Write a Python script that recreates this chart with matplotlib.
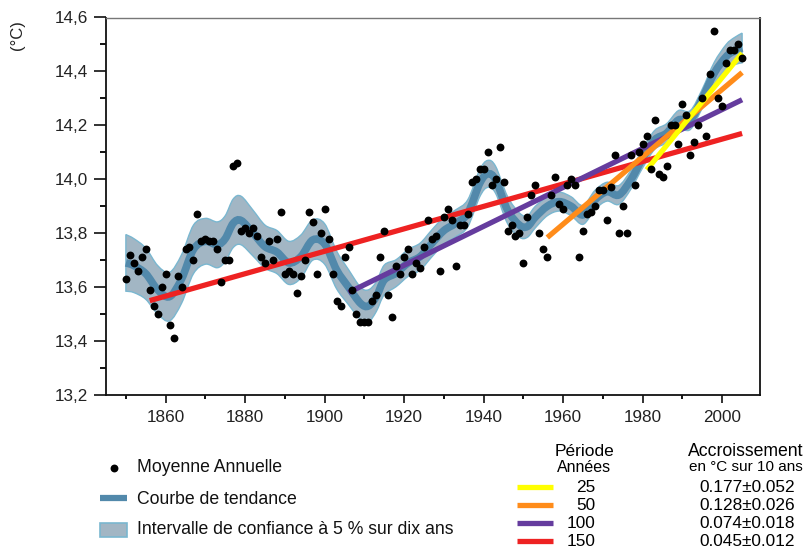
import numpy as np
import matplotlib
matplotlib.use("Agg")
import matplotlib.pyplot as plt
from matplotlib.ticker import MultipleLocator, FuncFormatter
from matplotlib.patches import Rectangle, PathPatch
from matplotlib.path import Path

plt.rcParams['font.family'] = ['Liberation Sans', 'DejaVu Sans']

# annual means (°C), 1850-2005
years = np.arange(1850, 2006)
temps = [
    13.63, 13.72, 13.69, 13.66, 13.71, 13.74, 13.59, 13.53, 13.50, 13.60,
    13.65, 13.46, 13.41, 13.64, 13.60, 13.74, 13.75, 13.70, 13.87, 13.77,
    13.78, 13.77, 13.77, 13.74, 13.62, 13.70, 13.70, 14.05, 14.06, 13.81,
    13.82, 13.80, 13.82, 13.79, 13.71, 13.69, 13.77, 13.70, 13.78, 13.88,
    13.65, 13.66, 13.65, 13.58, 13.64, 13.70, 13.88, 13.84, 13.65, 13.80,
    13.89, 13.78, 13.65, 13.55, 13.53, 13.71, 13.75, 13.59, 13.50, 13.47,
    13.47, 13.47, 13.55, 13.57, 13.71, 13.81, 13.57, 13.49, 13.68, 13.65,
    13.71, 13.74, 13.65, 13.69, 13.67, 13.75, 13.85, 13.78, 13.79, 13.66,
    13.86, 13.89, 13.85, 13.68, 13.83, 13.83, 13.87, 13.99, 14.00, 14.04,
    14.04, 14.10, 13.98, 14.00, 14.12, 13.99, 13.81, 13.83, 13.79, 13.80,
    13.69, 13.86, 13.94, 13.98, 13.80, 13.74, 13.71, 13.94, 14.01, 13.91,
    13.89, 13.98, 14.00, 13.98, 13.71, 13.81, 13.87, 13.88, 13.90, 13.96,
    13.96, 13.85, 13.97, 14.09, 13.80, 13.90, 13.80, 14.09, 13.98, 14.10,
    14.13, 14.16, 14.04, 14.22, 14.02, 14.01, 14.05, 14.20, 14.20, 14.13,
    14.28, 14.24, 14.09, 14.14, 14.20, 14.30, 14.16, 14.39, 14.55, 14.30,
    14.27, 14.43, 14.48, 14.48, 14.50, 14.45,
]

# smoothed curve and its 5% band
trend_years = [1850, 1852, 1855, 1858, 1861, 1864, 1867, 1870, 1873, 1875,
               1877, 1879, 1882, 1885, 1888, 1891, 1894, 1897, 1900, 1903,
               1906, 1909, 1911, 1913, 1915, 1918, 1921, 1924, 1927, 1930,
               1933, 1936, 1939, 1941, 1943, 1946, 1949, 1951, 1953, 1956,
               1959, 1962, 1965, 1968, 1971, 1974, 1977, 1980, 1983, 1986,
               1989, 1992, 1995, 1998, 2001, 2003, 2005]
trend = [13.69, 13.68, 13.65, 13.59, 13.565, 13.63, 13.74, 13.77, 13.757, 13.78,
         13.837, 13.847, 13.80, 13.75, 13.73, 13.69, 13.713, 13.775, 13.76, 13.664,
         13.60, 13.54, 13.53, 13.565, 13.627, 13.652, 13.69, 13.713, 13.763, 13.81,
         13.837, 13.874, 13.985, 14.02, 13.998, 13.886, 13.83, 13.825, 13.86, 13.90,
         13.917, 13.90, 13.868, 13.924, 13.954, 13.942, 13.998, 14.078, 14.146, 14.171,
         14.22, 14.22, 14.30, 14.394, 14.455, 14.475, 14.487]
band = [0.105, 0.10, 0.095, 0.09, 0.09, 0.09, 0.09, 0.085, 0.085, 0.085,
        0.09, 0.09, 0.085, 0.08, 0.08, 0.08, 0.08, 0.075, 0.075, 0.07,
        0.065, 0.06, 0.06, 0.055, 0.055, 0.05, 0.05, 0.05, 0.05, 0.05,
        0.05, 0.05, 0.05, 0.05, 0.05, 0.05, 0.045, 0.04, 0.04, 0.035,
        0.035, 0.035, 0.035, 0.035, 0.035, 0.035, 0.035, 0.035, 0.035, 0.035,
        0.035, 0.035, 0.035, 0.04, 0.045, 0.05, 0.055]

# linear fits: period (years), start/end value, rate per decade
periods = [25, 50, 100, 150]
fit_start = [1981, 1956, 1906, 1856]
fit_end = [2005, 2005, 2005, 2005]
fit_y0 = [14.035, 13.784, 13.58, 13.55]
fit_y1 = [14.468, 14.396, 14.295, 14.17]
fit_colors = ['#ffff00', '#ff8c1a', '#653c9e', '#ee2222']
rates = ['0.177±0.052', '0.128±0.026', '0.074±0.018', '0.045±0.012']


#smooth bezier path through the given points (catmull-rom style handles)
def smooth_path(xs, ys, first=True):
    pts = np.column_stack([xs, ys])
    n = len(pts)
    verts = [pts[0]] if first else []
    codes = [Path.MOVETO] if first else []
    for i in range(n - 1):
        p0 = pts[max(i - 1, 0)]
        p1 = pts[i]
        p2 = pts[i + 1]
        p3 = pts[min(i + 2, n - 1)]
        verts += [p1 + (p2 - p0) / 6.0, p2 - (p3 - p1) / 6.0, p2]
        codes += [Path.CURVE4] * 3
    return verts, codes


W, H = 806, 551
fig = plt.figure(figsize=(W / 100, H / 100), dpi=100)
ax = fig.add_axes([106 / W, 1 - 395 / H, (760 - 106) / W, (395 - 17.5) / H])

lo = np.array(trend) - np.array(band)
hi = np.array(trend) + np.array(band)
v1, c1 = smooth_path(trend_years, hi)
v2, c2 = smooth_path(trend_years[::-1], lo[::-1], first=False)
verts = v1 + [np.array([trend_years[-1], lo[-1]])] + v2 + [v1[0]]
codes = c1 + [Path.LINETO] + c2 + [Path.CLOSEPOLY]
ax.add_patch(PathPatch(Path(verts, codes), facecolor='#a2b6c4',
                       edgecolor='#7ab7d0', lw=1.0, zorder=1))

vt, ct = smooth_path(trend_years, trend)
ax.add_patch(PathPatch(Path(vt, ct), facecolor='none', edgecolor='#5289ab',
                       lw=5.5, capstyle='butt', zorder=2))

for i in range(len(periods) - 1, -1, -1):
    ax.plot([fit_start[i], fit_end[i]], [fit_y0[i], fit_y1[i]],
            color=fit_colors[i], lw=3.8, solid_capstyle='butt', zorder=3)

ax.scatter(years, temps, s=32, color='black', zorder=4, linewidths=0)

ax.set_xlim(1845, 2009.5)
ax.set_ylim(13.2, 14.6)
ax.xaxis.set_major_locator(MultipleLocator(20))
ax.xaxis.set_minor_locator(MultipleLocator(10))
ax.yaxis.set_major_locator(MultipleLocator(0.2))
ax.yaxis.set_minor_locator(MultipleLocator(0.1))
ax.yaxis.set_major_formatter(FuncFormatter(lambda v, p: f'{v:.1f}'.replace('.', ',')))
ax.tick_params(axis='y', which='major', length=9, width=1.3, labelsize=12.3,
               colors='#222222', pad=4)
ax.tick_params(axis='y', which='minor', length=4.5, width=1.3)
ax.tick_params(axis='x', which='major', length=6, width=1.3, labelsize=12.3,
               colors='#222222', pad=5)
ax.tick_params(axis='x', which='minor', length=3, width=1.3)
for s in ['left', 'bottom', 'right']:
    ax.spines[s].set_linewidth(1.3)
    ax.spines[s].set_color('#111111')
ax.spines['top'].set_linewidth(1.0)
ax.spines['top'].set_color('#777777')

fig.text(18 / W, 1 - 35 / H, '(°C)', rotation=90, ha='center', va='center',
         fontsize=12, color='#222222')

# overlay in pixel coordinates for the legend and the table
lg = fig.add_axes([0, 0, 1, 1])
lg.set_xlim(0, W)
lg.set_ylim(H, 0)
lg.axis('off')

lg.scatter([114], [468], s=32, color='black', linewidths=0)
lg.plot([100, 127], [498, 498], color='#5289ab', lw=4.5, solid_capstyle='butt')
lg.add_patch(Rectangle((100, 523), 27, 14, facecolor='#a2b6c4',
                       edgecolor='#7ab7d0', lw=1.2))
leg_labels = ['Moyenne Annuelle', 'Courbe de tendance',
              'Intervalle de confiance à 5 % sur dix ans']
for k, lab in enumerate(leg_labels):
    lg.text(137, 468 + 31 * k, lab, fontsize=12.7, va='center', ha='left',
            color='#111111')

lg.text(584, 452, 'Période', fontsize=12.5, ha='center', va='center')
lg.text(584, 467, 'Années', fontsize=11.5, ha='center', va='center')
lg.text(746, 452, 'Accroissement', fontsize=12.7, ha='center', va='center')
lg.text(746, 467, 'en °C sur 10 ans', fontsize=11, ha='center', va='center')
row_y = [487, 505, 523, 541]
for k in range(len(periods)):
    lg.plot([517, 553], [row_y[k], row_y[k]], color=fit_colors[k], lw=3.8,
            solid_capstyle='butt')
    lg.text(595, row_y[k] + 5, str(periods[k]), fontsize=12.4, ha='right',
            va='baseline')
    lg.text(747, row_y[k] + 5, rates[k], fontsize=12.4, ha='center',
            va='baseline')

fig.savefig('out.png', dpi=100)
